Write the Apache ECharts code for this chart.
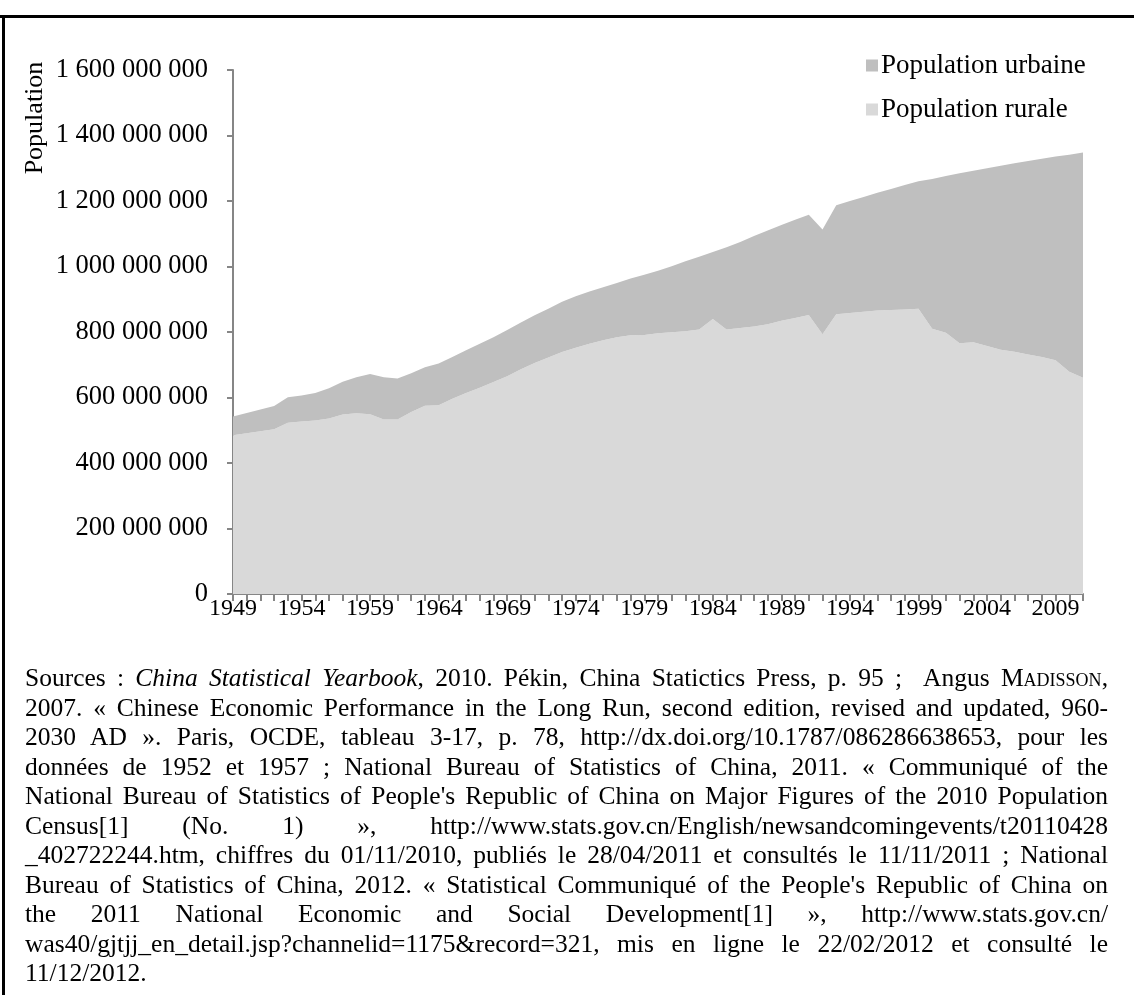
<!DOCTYPE html>
<html>
<head>
<meta charset="utf-8">
<script src="https://cdn.jsdelivr.net/npm/echarts@6/dist/echarts.min.js"></script>
<style>
  html, body { margin: 0; padding: 0; background: #fff; }
  #chart { width: 1134px; height: 995px; }
  .note {
    position: absolute;
    left: 25px;
    top: 663px;
    width: 1083px;
    font-family: "Liberation Serif", "Times New Roman", serif;
    font-size: 25.5px;
    line-height: 29.5px;
    color: #000;
  }
  .note div { text-align: justify; text-align-last: justify; }
  .note div.last { text-align-last: left; }
  .sc { font-variant: small-caps; }
</style>
</head>
<body>
<div id="chart"></div>
<div class="note">
  <div>Sources : <i>China Statistical Yearbook</i>, 2010. Pékin, China Statictics Press, p. 95 ;&nbsp; Angus M<span class="sc">adisson</span>,</div>
  <div>2007. « Chinese Economic Performance in the Long Run, second edition, revised and updated, 960-</div>
  <div>2030 AD ». Paris, OCDE, tableau 3-17, p. 78, http://dx.doi.org/10.1787/086286638653, pour les</div>
  <div>données de 1952 et 1957 ; National Bureau of Statistics of China, 2011. « Communiqué of the</div>
  <div>National Bureau of Statistics of People's Republic of China on Major Figures of the 2010 Population</div>
  <div>Census[1] (No. 1) », http://www.stats.gov.cn/English/newsandcomingevents/t20110428</div>
  <div>_402722244.htm, chiffres du 01/11/2010, publiés le 28/04/2011 et consultés le 11/11/2011 ; National</div>
  <div>Bureau of Statistics of China, 2012. « Statistical Communiqué of the People's Republic of China on</div>
  <div>the 2011 National Economic and Social Development[1] », http://www.stats.gov.cn/</div>
  <div>was40/gjtjj_en_detail.jsp?channelid=1175&amp;record=321, mis en ligne le 22/02/2012 et consulté le</div>
  <div class="last">11/12/2012.</div>
</div>
<script>
// années 1949 -> 2011
const years = []
for (let y = 1949; y <= 2011; y++) years.push(String(y))

// population rurale (millions)
const rural = [
  485, 491, 497, 503, 523, 527, 530, 536, 548, 552,
  549, 533, 533, 556, 575, 576, 596, 614, 630, 647,
  665, 686, 705, 722, 739, 752, 764, 775, 784, 790,
  791, 796, 799, 802, 808, 840, 808, 812, 817, 824,
  834, 843, 852, 793, 854, 858, 862, 866, 867, 869,
  871, 810, 798, 766, 769, 757, 746, 740, 731, 724,
  714, 679, 660
]

// population urbaine (millions)
const urban = [
  57, 62, 66, 71, 78, 79, 84, 92, 100, 110,
  123, 129, 125, 118, 117, 128, 128, 130, 134, 137,
  141, 143, 146, 149, 153, 157, 160, 162, 166, 173,
  184, 191, 202, 214, 222, 204, 251, 263, 276, 286,
  293, 300, 306, 320, 333, 342, 350, 359, 370, 380,
  389, 457, 478, 519, 523, 543, 562, 575, 591, 605,
  622, 662, 688
]

const serif = '"Liberation Serif", "Times New Roman", serif'

function fmt (v) {
  return String(v).replace(/\B(?=(\d{3})+(?!\d))/g, ' ')
}

let chart = echarts.init(document.getElementById('chart'))
let option = {
  animation: false,
  backgroundColor: '#fff',
  textStyle: { fontFamily: serif, color: '#000' },
  grid: {
    left: 233,
    right: 51,
    top: 70,
    bottom: 401
  },
  legend: {
    orient: 'vertical',
    left: 866,
    top: 52,
    padding: 0,
    itemGap: 17,
    itemWidth: 12,
    itemHeight: 12,
    icon: 'rect',
    textStyle: { fontFamily: serif, fontSize: 27, color: '#000', padding: [0, 0, 0, -2] },
    data: ['Population urbaine', 'Population rurale']
  },
  xAxis: {
    type: 'category',
    boundaryGap: false,
    data: years,
    axisLine: { lineStyle: { color: '#868686', width: 2 } },
    axisTick: { interval: 0, length: 7, lineStyle: { color: '#868686', width: 2 } },
    axisLabel: { interval: 4, margin: 3, fontSize: 24, fontFamily: serif, color: '#000' },
    splitLine: { show: false }
  },
  yAxis: {
    type: 'value',
    min: 0,
    max: 1600000000,
    interval: 200000000,
    axisLine: { show: true, lineStyle: { color: '#868686', width: 2 } },
    axisTick: { show: true, length: 6, lineStyle: { color: '#868686', width: 2 } },
    axisLabel: {
      margin: 25,
      fontSize: 26.5,
      fontFamily: serif,
      color: '#000',
      formatter: fmt
    },
    splitLine: { show: false }
  },
  graphic: [
    { type: 'rect', shape: { x: 0, y: 15, width: 1134, height: 3 }, style: { fill: '#000' } },
    { type: 'rect', shape: { x: 2, y: 15, width: 3, height: 980 }, style: { fill: '#000' } },
    {
      type: 'text',
      x: 35,
      y: 118,
      rotation: Math.PI / 2,
      style: {
        text: 'Population',
        font: '26px ' + serif,
        fill: '#000',
        align: 'center',
        verticalAlign: 'middle'
      }
    }
  ],
  series: [
    {
      name: 'Population rurale',
      type: 'line',
      stack: 'pop',
      symbol: 'none',
      color: '#d9d9d9',
      lineStyle: { width: 0 },
      areaStyle: { color: '#d9d9d9', opacity: 1 },
      data: rural.map(v => v * 1000000)
    },
    {
      name: 'Population urbaine',
      type: 'line',
      stack: 'pop',
      symbol: 'none',
      color: '#bfbfbf',
      lineStyle: { width: 0 },
      areaStyle: { color: '#bfbfbf', opacity: 1 },
      data: urban.map(v => v * 1000000)
    }
  ]
}
chart.setOption(option)
</script>
</body>
</html>
